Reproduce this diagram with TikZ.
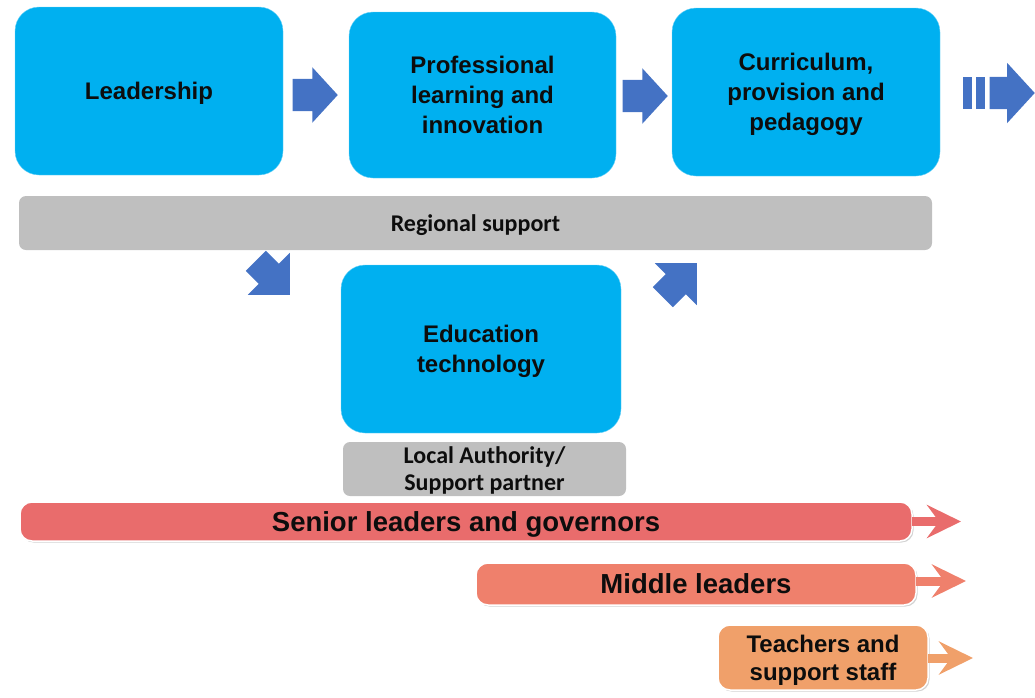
\documentclass[tikz,border=0pt]{standalone}
\usepackage{fontspec}
\setmainfont{Liberation Sans}
\newfontfamily\calibrifont{Carlito}
\usepackage{xcolor}
\definecolor{boxblue}{RGB}{0,176,240}
\definecolor{arrowblue}{RGB}{68,114,196}
\definecolor{bargray}{RGB}{191,191,191}
\definecolor{seniorred}{RGB}{233,108,108}
\definecolor{middlered}{RGB}{239,128,108}
\definecolor{teacherorange}{RGB}{240,160,106}
\definecolor{inktext}{RGB}{13,13,13}
\usepackage{tikz}
\usetikzlibrary{shapes.arrows}
\usetikzlibrary{arrows.meta}
\usetikzlibrary{shadows}
\newcommand{\stagefont}{\fontsize{24}{30}\selectfont\bfseries}
\newcommand{\supportfont}{\calibrifont\fontsize{24}{27}\selectfont\bfseries}
\newcommand{\groupfont}{\fontsize{27.5}{30}\selectfont\bfseries}
\newcommand{\smallgroupfont}{\fontsize{24}{28}\selectfont\bfseries}
\tikzset{
    common/.style={rectangle, align=center, text=inktext, inner sep=0pt, text depth=0pt},
    stage/.style={common, fill=boxblue, draw=boxblue!55, rounded corners=24pt, minimum width=268pt, minimum height=168pt, font=\stagefont},
    support/.style={common, fill=bargray, rounded corners=7pt, minimum height=54pt, font=\supportfont},
    group/.style={common, draw=white, line width=1.5pt, rounded corners=12pt, font=\groupfont,
        drop shadow={opacity=0.35, shadow xshift=1.5pt, shadow yshift=-1.5pt}},
    step-arrow/.style={single arrow, anchor=tip, fill=arrowblue, draw=none, inner xsep=0pt, inner ysep=16pt, minimum height=45pt, single arrow head extend=11.5pt, single arrow tip angle=95},
    turn-arrow/.style={step-arrow, inner ysep=14pt, minimum height=48pt, single arrow head extend=15.5pt, single arrow tip angle=90},
    stripe/.style={rectangle, fill=arrowblue, inner sep=0pt, minimum width=9pt, minimum height=32pt},
    lead-arrow/.style={-{Stealth[length=34pt, width=33pt, inset=12pt]}, line width=9pt, shorten <=-1pt}
}

\begin{document}
\begin{tikzpicture}[x=1pt, y=-1pt]
    \useasboundingbox (0,0) rectangle (1035,697);

    \path
        node[stage] (leadership) at (149,91) {Leadership}
        node[stage, minimum width=267pt, minimum height=166pt] (professional) at (482.5,95) {Professional\\learning and\\innovation}
        node[stage] (curriculum) at (806,92) {Curriculum,\\provision and\\pedagogy}
        node[stage, minimum width=280pt] (edtech) at (481,349) {Education\\technology};

    \path
        node[step-arrow] (lead-to-prof) at (338,95) {}
        node[step-arrow] (prof-to-curr) at (668,96) {}
        node[stripe] (stripe-a) at (967.5,93) {}
        node[stripe] (stripe-b) at (980,93) {}
        node[step-arrow, single arrow head extend=14pt] (curr-onward) at (1035,93) {}
        node[turn-arrow, rotate=-45] (to-edtech) at (290,295) {}
        node[turn-arrow, rotate=45] (from-edtech) at (697,263) {};

    \path
        node[support, minimum width=913pt] (regional) at (475.5,223) {Regional support}
        node[support, minimum width=283pt] (local) at (484.5,469) {Local Authority/\\Support partner};

    \path
        node[group, fill=seniorred, minimum width=892pt, minimum height=39pt] (senior) at (466,521.5) {Senior leaders and governors}
        node[group, fill=middlered, minimum width=440pt, minimum height=42pt] (middle) at (696,584) {Middle leaders}
        node[group, fill=teacherorange, minimum width=210pt, minimum height=65pt, font=\smallgroupfont] (teachers) at (823,657.5) {Teachers and\\support staff};

    \coordinate (senior-end) at (961,521.5);
    \coordinate (middle-end) at (966,581);
    \coordinate (teachers-end) at (973,658);

    \draw[lead-arrow, seniorred] (senior.east) -- (senior-end);
    \draw[lead-arrow, middlered] (middle.east |- middle-end) -- (middle-end);
    \draw[lead-arrow, teacherorange] (teachers.east |- teachers-end) -- (teachers-end);
\end{tikzpicture}
\end{document}
